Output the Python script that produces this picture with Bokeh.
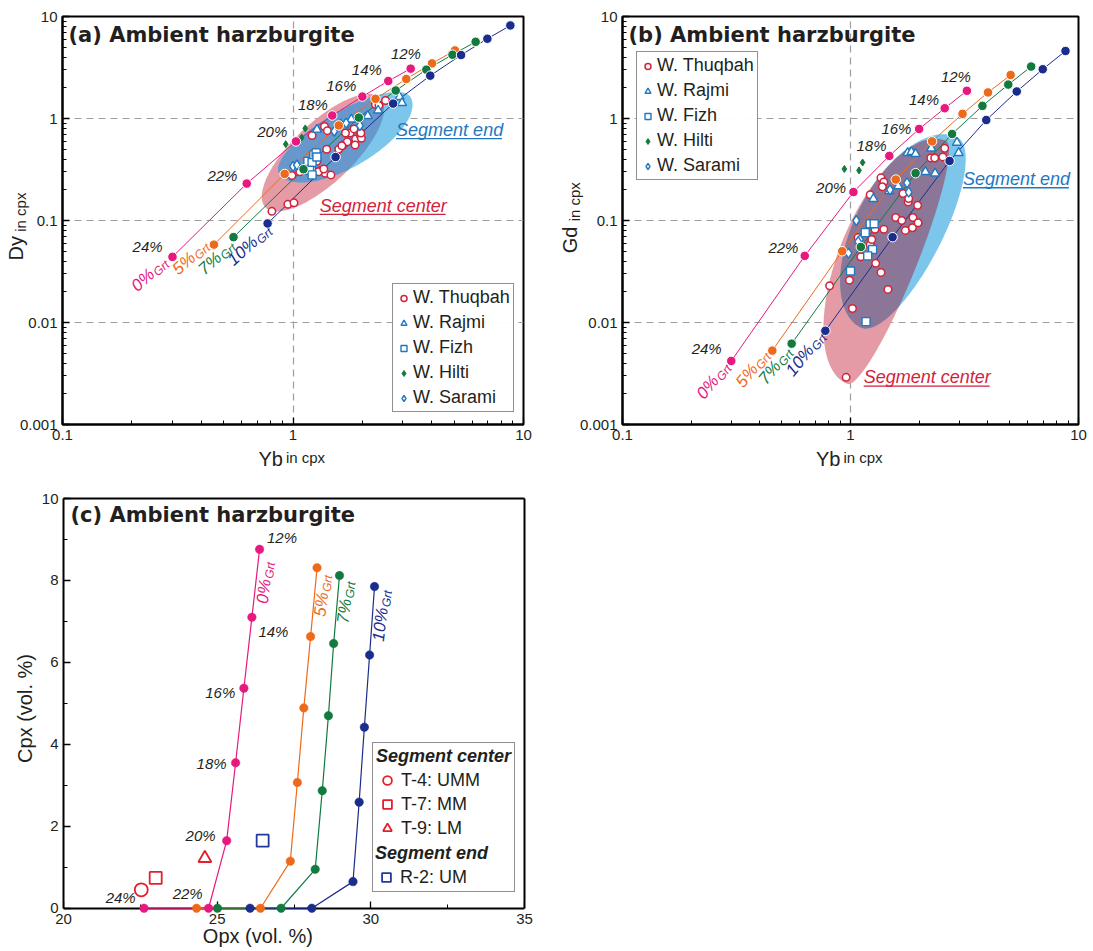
import numpy as np
from bokeh.plotting import figure
from bokeh.models import (Label, Legend, LegendItem, FixedTicker, Range1d, CustomJSTickFormatter,
                          LinearAxis, LogAxis)
from bokeh.layouts import column, row
from bokeh.embed import file_html
from bokeh.resources import INLINE

# ---------------- data ----------------
MELT_PCT = [24, 22, 20, 18, 16, 14, 12]
GRT_PCT = [0, 5, 7, 10]

YB_G0 = [0.30, 0.63, 1.03, 1.48, 2.00, 2.59, 3.24]
DY_G0 = [0.044, 0.23, 0.596, 1.07, 1.64, 2.33, 3.08]
GD_G0 = [0.0042, 0.045, 0.19, 0.43, 0.79, 1.26, 1.87]
OPX_G0 = [22.62, 24.72, 25.31, 25.60, 25.87, 26.13, 26.38]
CPX_G0 = [0.0, 0.0, 1.65, 3.55, 5.37, 7.10, 8.76]

YB_G5 = [0.454, 0.92, 1.58, 2.28, 3.10, 4.01, 5.04]
DY_G5 = [0.058, 0.286, 0.855, 1.56, 2.44, 3.47, 4.65]
GD_G5 = [0.0053, 0.050, 0.252, 0.597, 1.11, 1.80, 2.67]
OPX_G5 = [24.33, 26.41, 27.38, 27.61, 27.82, 28.04, 28.25]
CPX_G5 = [0.0, 0.0, 1.15, 3.07, 4.89, 6.63, 8.31]

YB_G7 = [0.552, 1.11, 1.93, 2.79, 3.79, 4.92, 6.20]
DY_G7 = [0.0687, 0.318, 1.02, 1.88, 3.01, 4.22, 5.65]
GD_G7 = [0.0062, 0.055, 0.291, 0.705, 1.33, 2.15, 3.23]
OPX_G7 = [25.01, 27.08, 28.19, 28.42, 28.62, 28.79, 28.98]
CPX_G7 = [0.0, 0.0, 0.95, 2.87, 4.70, 6.46, 8.12]

YB_G10 = [0.776, 1.53, 2.72, 3.94, 5.36, 6.97, 8.77]
DY_G10 = [0.0935, 0.419, 1.40, 2.63, 4.19, 6.05, 8.17]
GD_G10 = [0.0083, 0.0686, 0.384, 0.966, 1.84, 3.04, 4.59]
OPX_G10 = [26.07, 28.08, 29.42, 29.62, 29.79, 29.96, 30.12]
CPX_G10 = [0.0, 0.0, 0.65, 2.59, 4.42, 6.18, 7.85]

# samples, panel (a): Yb vs Dy
THUQ_A_YB = [0.81, 0.95, 1.01, 0.99, 1.07, 1.21, 1.37, 1.41, 1.40, 1.27, 1.32, 1.38, 1.46, 1.21, 1.29,
             1.36, 1.58, 1.65, 1.72, 1.77, 1.84, 1.87, 1.96, 1.98, 1.86, 1.63, 1.97, 2.28, 2.36, 2.52, 1.69]
THUQ_A_DY = [0.123, 0.144, 0.149, 0.276, 0.30, 0.68, 0.835, 0.76, 0.50, 0.38, 0.31, 0.29, 0.28, 0.32, 0.30,
             0.32, 0.50, 0.55, 0.59, 0.72, 0.79, 0.63, 0.68, 0.64, 0.55, 0.54, 0.72, 1.37, 1.34, 1.50, 0.72]
RAJMI_A_YB = [1.27, 1.79, 2.11, 2.34, 2.90, 2.97]
RAJMI_A_DY = [0.78, 0.98, 1.06, 1.20, 1.63, 1.42]
FIZH_A_YB = [1.16, 1.23, 1.26, 1.21, 1.18, 1.21, 1.27]
FIZH_A_DY = [0.38, 0.44, 0.46, 0.37, 0.31, 0.28, 0.42]
HILTI_A_YB = [0.93, 1.09, 1.13]
HILTI_A_DY = [0.56, 0.65, 0.80]
SARAMI_A_YB = [1.00, 1.04, 1.51, 1.61, 1.95, 1.70]
SARAMI_A_DY = [0.34, 0.35, 0.75, 0.88, 0.85, 0.90]

# samples, panel (b): Yb vs Gd
THUQ_B_YB = [0.957, 1.02, 0.81, 0.99, 1.46, 1.36, 1.29, 1.11, 1.22, 1.24, 1.28, 1.40, 1.08, 1.58, 1.68,
             1.74, 1.87, 1.88, 1.98, 1.97, 1.79, 1.80, 1.70, 1.22, 1.36, 1.40, 1.38, 2.25, 2.34, 2.54, 2.59]
THUQ_B_GD = [0.0029, 0.0137, 0.0229, 0.026, 0.0211, 0.031, 0.038, 0.044, 0.058, 0.065, 0.082, 0.082, 0.068,
             0.107, 0.100, 0.080, 0.085, 0.107, 0.095, 0.141, 0.152, 0.164, 0.184, 0.179, 0.262, 0.239, 0.214,
             0.41, 0.41, 0.42, 0.51]
RAJMI_B_YB = [1.26, 1.48, 1.62, 1.78, 1.85, 1.93, 2.13, 2.35, 2.26, 2.93, 2.98]
RAJMI_B_GD = [0.163, 0.194, 0.217, 0.46, 0.47, 0.45, 0.30, 0.29, 0.51, 0.58, 0.46]
FIZH_B_YB = [1.16, 1.22, 1.27, 1.25, 1.19, 1.00, 1.17]
FIZH_B_GD = [0.076, 0.093, 0.093, 0.052, 0.045, 0.032, 0.0102]
HILTI_B_YB = [0.94, 1.09, 1.13]
HILTI_B_GD = [0.32, 0.31, 0.37]
SARAMI_B_YB = [1.06, 0.98, 1.10, 1.08, 1.49, 1.77, 1.80]
SARAMI_B_GD = [0.100, 0.048, 0.065, 0.062, 0.20, 0.234, 0.19]

# samples, panel (c): Opx vs Cpx (vol. %)
T4_OPX, T4_CPX = [22.53], [0.45]
T7_OPX, T7_CPX = [23.00], [0.74]
T9_OPX, T9_CPX = [24.60], [1.22]
R2_OPX, R2_CPX = [26.48], [1.65]

# fields (egg shapes in log10 space: centre, half-axis u, half-widths v1 / v2 on the two sides)
CENTER_FIELD_A = dict(c=(0.130, -0.335), u=(0.250, 0.535), v1=(0.0895, -0.214), v2=(0.0895, -0.214))
END_FIELD_A = dict(c=(0.2252, -0.1657), u=(0.285, 0.3745), v1=(0.0698, -0.2713), v2=(0.0524, -0.203))
CENTER_FIELD_B = dict(c=(0.2013, -1.409), u=(0.2158, 1.192), v1=(0.0811, -0.0735), v2=(0.236, -0.2127))
END_FIELD_B = dict(c=(0.2566, -1.1176), u=(0.2127, 0.932), v1=(0.129, -0.147), v2=(0.215, -0.245))

# ---------------- styles ----------------
FONT = "Liberation Sans"
TITLE_FONT = "DejaVu Sans"
INK = "#231f20"
C_G = {0: "#e6197e", 5: "#ee6a1b", 7: "#127a3e", 10: "#1b2d8c"}
RED = "#d2233c"
BLUE = "#1e78c2"
GREEN = "#127a3e"
PINK_FIELD = "#e59ba6"
BLUE_FIELD = "#7cc6ec"
OVER_A = "#6898cb"
OVER_B = "#8c7698"
NBSP = "\u00a0"

SERIES = {
    0: (YB_G0, DY_G0, GD_G0, OPX_G0, CPX_G0),
    5: (YB_G5, DY_G5, GD_G5, OPX_G5, CPX_G5),
    7: (YB_G7, DY_G7, GD_G7, OPX_G7, CPX_G7),
    10: (YB_G10, DY_G10, GD_G10, OPX_G10, CPX_G10),
}


def egg(c, u, v1, v2, n=180):
    t = np.linspace(0, 2 * np.pi, n, endpoint=False)
    c, u, v1, v2 = (np.array(a, dtype=float) for a in (c, u, v1, v2))
    s = np.sin(t)[:, None]
    v = np.where(s >= 0, v1[None, :], v2[None, :])
    pts = c[None, :] + np.cos(t)[:, None] * u[None, :] + s * v
    if u[0] * v1[1] - u[1] * v1[0] < 0:
        pts = pts[::-1]
    return pts


def clip_convex(subject, clipper):
    def inside(p, a, b):
        return (b[0] - a[0]) * (p[1] - a[1]) - (b[1] - a[1]) * (p[0] - a[0]) >= 0

    def inter(p1, p2, a, b):
        d1 = p2 - p1
        d2 = b - a
        den = d1[0] * d2[1] - d1[1] * d2[0]
        t = ((a[0] - p1[0]) * d2[1] - (a[1] - p1[1]) * d2[0]) / den
        return p1 + t * d1

    out = [np.array(p) for p in subject]
    for i in range(len(clipper)):
        a, b = clipper[i], clipper[(i + 1) % len(clipper)]
        inp, out = out, []
        if not inp:
            break
        s = inp[-1]
        for e in inp:
            if inside(e, a, b):
                if not inside(s, a, b):
                    out.append(inter(s, e, a, b))
                out.append(e)
            elif inside(s, a, b):
                out.append(inter(s, e, a, b))
            s = e
    return np.array(out)


def add_label(p, x, y, text, size, color=INK, style="normal", align="left",
              baseline="alphabetic", angle=0.0, xo=0, yo=0, font=FONT):
    if baseline == "alphabetic":
        k = 0.31 * size   # lift so that the baseline sits on the anchor
        xo = xo - k * np.sin(angle)
        yo = yo + k * np.cos(angle)
    p.add_layout(Label(x=x, y=y, text=text, text_font=font, text_font_size=f"{size}px",
                       text_font_style=style, text_color=color, text_align=align,
                       text_baseline=baseline, angle=angle, x_offset=xo, y_offset=yo))


def style_axis(ax, t, m, lab, sz, st, log):
    ax.ticker = FixedTicker(ticks=t, minor_ticks=m)
    if log:
        ax.formatter = CustomJSTickFormatter(code="return String(tick);")
    ax.axis_line_width = 2
    ax.axis_line_color = "black"
    ax.major_tick_in = 7
    ax.major_tick_out = 0
    ax.minor_tick_in = 4
    ax.minor_tick_out = 0
    ax.major_tick_line_color = "black"
    ax.minor_tick_line_color = "black"
    ax.major_tick_line_width = 1.3
    ax.minor_tick_line_width = 1
    ax.major_label_text_font = FONT
    ax.major_label_text_font_size = "15px"
    ax.major_label_text_color = INK
    ax.major_label_standoff = 5
    ax.axis_label = lab
    ax.axis_label_text_font = FONT
    ax.axis_label_text_font_size = f"{sz}px"
    ax.axis_label_text_font_style = "normal"
    ax.axis_label_text_color = INK
    ax.axis_label_standoff = st


def label_axis(p, side, text, size, standoff, cls):
    """An axis with no line and no ticks that only carries a (part of an) axis title."""
    ax = cls(ticker=FixedTicker(ticks=[]), axis_line_color=None, major_tick_in=0, major_tick_out=0,
             minor_tick_in=0, minor_tick_out=0, major_label_standoff=0,
             axis_label=text, axis_label_text_font=FONT, axis_label_text_font_size=f"{size}px",
             axis_label_text_font_style="normal", axis_label_text_color=INK,
             axis_label_standoff=standoff)
    p.add_layout(ax, side)
    return ax


def grt_label(p, x, y, pct, color, angle_deg, big=17, small=12):
    a = np.radians(angle_deg)
    add_label(p, x, y, f"{pct}%", big, color=color, style="italic", angle=a)
    w = (0.556 * len(str(pct)) + 0.889) * big + 1
    d = 2.0
    add_label(p, x, y, "Grt", small, color=color, style="italic", angle=a,
              xo=w * np.cos(a) + d * np.sin(a), yo=w * np.sin(a) - d * np.cos(a))


LOG_MAJ = [0.1, 1, 10]
LOG_MIN = [0.2, 0.3, 0.4, 0.5, 0.6, 0.7, 0.8, 0.9, 2, 3, 4, 5, 6, 7, 8, 9]
LOGY_MAJ = [0.001, 0.01, 0.1, 1, 10]
LOGY_MIN = [k * 10.0 ** e for e in (-3, -2, -1, 0) for k in range(2, 10)]


def log_panel(tag, ylab, yidx, fields, over_col, samples, pct_pos, grt_pos, grt_angle,
              seg_end, seg_center, legend_loc, bl, fw, br, decade_x, ylab_pads, ylab_stand):
    p = figure(width=bl + fw + br, height=16 + 408 + 50,
               x_axis_type="log", y_axis_type="log",
               x_range=Range1d(0.1, 10), y_range=Range1d(0.001, 10),
               output_backend="svg", toolbar_location=None,
               min_border_left=bl, min_border_right=br, min_border_top=16, min_border_bottom=50)
    # axis titles: small "in cpx" on the inner axis, big element name on an outer label-only axis
    style_axis(p.xaxis[0], LOG_MAJ, LOG_MIN, NBSP * 6 + "in cpx", 15, 6, True)
    label_axis(p, "below", "Yb" + NBSP * 8, 20, -21, LogAxis)
    k_big, m_small = ylab_pads
    style_axis(p.yaxis[0], LOGY_MAJ, LOGY_MIN, NBSP * m_small + "in cpx", 15, ylab_stand, True)
    label_axis(p, "left", ylab + NBSP * k_big, 20, -18, LogAxis)
    p.outline_line_color = "black"
    p.outline_line_width = 2
    p.outline_line_alpha = 1
    p.xgrid.ticker = FixedTicker(ticks=[1])
    p.ygrid.ticker = FixedTicker(ticks=[0.01, 0.1, 1])
    p.grid.grid_line_color = "#9d9d9d"
    p.grid.grid_line_dash = "7 5"
    p.grid.grid_line_width = 1.2

    # fields
    pink = egg(**fields[0])
    blue = egg(**fields[1])
    over = clip_convex(pink, blue)
    p.patch(10 ** pink[:, 0], 10 ** pink[:, 1], fill_color=PINK_FIELD, line_color=None)
    p.patch(10 ** blue[:, 0], 10 ** blue[:, 1], fill_color=BLUE_FIELD, line_color=None)
    if len(over):
        p.patch(10 ** over[:, 0], 10 ** over[:, 1], fill_color=over_col, line_color=None)

    # model lines
    for g in GRT_PCT:
        s = SERIES[g]
        p.line(s[0], s[yidx], line_color=C_G[g], line_width=1)

    # samples
    (thx, thy), (rax, ray), (fzx, fzy), (hix, hiy), (sax, say) = samples
    r_th = p.scatter(thx, thy, marker="circle", size=7.5, line_color=RED, fill_color="white", line_width=1.5)
    r_ra = p.scatter(rax, ray, marker="triangle", size=9, line_color=BLUE, fill_color="white", line_width=1.4)
    r_fz = p.scatter(fzx, fzy, marker="square", size=8, line_color=BLUE, fill_color="white", line_width=1.4)
    r_hi = p.scatter(hix, hiy, marker="diamond", size=7, line_color=GREEN, fill_color=GREEN, line_width=1)
    r_sa = p.scatter(sax, say, marker="diamond", size=10, line_color=BLUE, fill_color="white", line_width=1.4)

    # model points
    for g in GRT_PCT:
        s = SERIES[g]
        p.scatter(s[0], s[yidx], marker="circle", size=9.5, fill_color=C_G[g], line_color="white", line_width=1)

    # texts
    add_label(p, 0.1, 10, f"({tag}) Ambient harzburgite", 21, style="bold", xo=6, yo=-25, font=TITLE_FONT)
    for (px_, py_), m in zip(pct_pos, MELT_PCT):
        add_label(p, px_, py_, f"{m}%", 15, style="italic", align="center", baseline="middle")
    for (gx, gy), g in zip(grt_pos, GRT_PCT):
        grt_label(p, gx, gy, g, C_G[g], grt_angle)
    for (sx, sy, txt, col, w) in (seg_end + (BLUE, 106), seg_center + (RED, 126)):
        add_label(p, sx, sy, txt, 18, color=col, style="italic")
        yl = sy * 10 ** (-3.0 / 102)
        p.segment(x0=[sx], y0=[yl], x1=[sx * 10 ** (w / decade_x)], y1=[yl], line_color=col, line_width=1.3)

    leg = Legend(items=[LegendItem(label="W. Thuqbah", renderers=[r_th]),
                        LegendItem(label="W. Rajmi", renderers=[r_ra]),
                        LegendItem(label="W. Fizh", renderers=[r_fz]),
                        LegendItem(label="W. Hilti", renderers=[r_hi]),
                        LegendItem(label="W. Sarami", renderers=[r_sa])],
                 location=legend_loc)
    leg.label_text_font = FONT
    leg.label_text_font_size = "18px"
    leg.label_text_color = INK
    leg.border_line_color = INK
    leg.border_line_width = 1.5
    leg.padding = 3
    leg.spacing = 4
    leg.margin = 0
    leg.glyph_width = 15
    leg.glyph_height = 20
    leg.label_height = 20
    leg.label_standoff = 2
    p.add_layout(leg)
    return p


pa = log_panel(
    "a", "Dy", 1, (CENTER_FIELD_A, END_FIELD_A), OVER_A,
    ((THUQ_A_YB, THUQ_A_DY), (RAJMI_A_YB, RAJMI_A_DY), (FIZH_A_YB, FIZH_A_DY),
     (HILTI_A_YB, HILTI_A_DY), (SARAMI_A_YB, SARAMI_A_DY)),
    [(0.234, 0.0557), (0.494, 0.279), (0.813, 0.741), (1.22, 1.38), (1.62, 2.12), (2.09, 3.01), (3.09, 4.32)],
    [(0.211, 0.0198), (0.318, 0.0288), (0.412, 0.0288), (0.552, 0.0356)], 42,
    (2.80, 0.68, "Segment end"), (1.306, 0.123, "Segment center"),
    (330, 12), 62, 461, 10, 230.5, (10, 4), -12)

pb = log_panel(
    "b", "Gd", 2, (CENTER_FIELD_B, END_FIELD_B), OVER_B,
    ((THUQ_B_YB, THUQ_B_GD), (RAJMI_B_YB, RAJMI_B_GD), (FIZH_B_YB, FIZH_B_GD),
     (HILTI_B_YB, HILTI_B_GD), (SARAMI_B_YB, SARAMI_B_GD)),
    [(0.234, 0.0056), (0.508, 0.0543), (0.822, 0.212), (1.236, 0.546), (1.59, 0.805), (2.10, 1.52), (2.90, 2.58)],
    [(0.228, 0.00173), (0.339, 0.00225), (0.426, 0.00242), (0.561, 0.00292)], 51,
    (3.114, 0.224, "Segment end"), (1.143, 0.00255, "Segment center"),
    (14, 244), 89, 456, 10, 228, (7, 9), -6)

# ---------------- panel (c) ----------------
# the y range reaches a little below 0 so that the dots on Cpx = 0 are drawn whole;
# the x axis line is pinned at Cpx = 0 and the box is drawn by bounded axes.
pc = figure(width=63 + 461 + 10, height=24 + 420 + 33,
            x_range=Range1d(20, 35), y_range=Range1d(-0.25, 10),
            output_backend="svg", toolbar_location=None,
            min_border_left=63, min_border_right=10, min_border_top=24, min_border_bottom=33)
style_axis(pc.xaxis[0], [20, 25, 30, 35], [22.5, 27.5, 32.5], None, 20, 0, False)
pc.xaxis[0].fixed_location = 0
pc.xaxis[0].major_label_text_color = None
pc.xaxis[0].major_label_text_font_size = "0px"
style_axis(pc.yaxis[0], [0, 2, 4, 6, 8, 10], [1, 3, 5, 7, 9], "Cpx (vol. %)", 20, 3, False)
pc.yaxis[0].bounds = (0, 10)
pc.outline_line_color = None
pc.grid.visible = False
# tick labels and title of the Opx axis
opx_ax = LinearAxis(ticker=FixedTicker(ticks=[20, 25, 30, 35]), axis_line_color=None,
                    major_tick_in=0, major_tick_out=0, minor_tick_in=0, minor_tick_out=0,
                    major_label_standoff=-5, major_label_text_font=FONT, major_label_text_font_size="15px",
                    major_label_text_color=INK,
                    axis_label="Opx (vol. %)" + NBSP * 13, axis_label_text_font=FONT,
                    axis_label_text_font_size="20px", axis_label_text_font_style="normal",
                    axis_label_text_color=INK, axis_label_standoff=-2)
pc.add_layout(opx_ax, "below")
for side, bounds in (("right", (0, 10)), ("above", (20, 35))):
    frame_ax = LinearAxis(ticker=FixedTicker(ticks=[]), bounds=bounds, axis_line_width=2,
                          axis_line_color="black", major_tick_in=0, major_tick_out=0,
                          minor_tick_in=0, minor_tick_out=0, major_label_standoff=0)
    pc.add_layout(frame_ax, side)

for g in GRT_PCT:
    s = SERIES[g]
    pc.line(s[3], s[4], line_color=C_G[g], line_width=1.2, level="overlay")
for g in GRT_PCT:
    s = SERIES[g]
    pc.scatter(s[3], s[4], marker="circle", size=8.5, fill_color=C_G[g], line_color=C_G[g], line_width=0.5,
               level="overlay")

RED_C = "#e3202c"
NAVY_C = "#24399a"
r_t4 = pc.scatter(T4_OPX, T4_CPX, marker="circle", size=13, line_color=RED_C, fill_color=None, line_width=1.8)
r_t7 = pc.scatter(T7_OPX, T7_CPX, marker="square", size=12, line_color=RED_C, fill_color=None, line_width=1.8)
r_t9 = pc.scatter(T9_OPX, T9_CPX, marker="triangle", size=13, line_color=RED_C, fill_color=None, line_width=1.8)
r_r2 = pc.scatter(R2_OPX, R2_CPX, marker="square", size=12, line_color=NAVY_C, fill_color=None, line_width=1.8)

add_label(pc, 20, 10, "(c) Ambient harzburgite", 21, style="bold", xo=7, yo=-23, font=TITLE_FONT)
for (px_, py_), m in zip([(21.86, 0.27), (24.04, 0.37), (24.46, 1.77), (24.82, 3.54), (25.10, 5.27),
                          (26.83, 6.76), (27.11, 9.05)], MELT_PCT):
    add_label(pc, px_, py_, f"{m}%", 15, style="italic", align="center", baseline="middle")
for (gx, gy), g in zip([(26.64, 7.42), (28.51, 7.10), (29.26, 6.94), (30.41, 6.50)], GRT_PCT):
    grt_label(pc, gx, gy, g, C_G[g], 83)

leg1 = Legend(items=[LegendItem(label="T-4: UMM", renderers=[r_t4]),
                     LegendItem(label="T-7: MM", renderers=[r_t7]),
                     LegendItem(label="T-9: LM", renderers=[r_t9]),
                     LegendItem(label=" ", renderers=[]),
                     LegendItem(label=" ", renderers=[])],
              title="Segment center", location=(309, 26))
leg2 = Legend(items=[LegendItem(label="R-2: UM", renderers=[r_r2])],
              title="Segment end", location=(309, 26))
for lg in (leg1, leg2):
    lg.label_text_font = FONT
    lg.label_text_font_size = "18px"
    lg.label_text_color = INK
    lg.title_text_font = FONT
    lg.title_text_font_size = "18px"
    lg.title_text_font_style = "bold italic"
    lg.title_text_color = INK
    lg.title_standoff = 1
    lg.padding = 3
    lg.spacing = 0
    lg.margin = 0
    lg.glyph_width = 22
    lg.glyph_height = 24
    lg.label_height = 20
    lg.label_standoff = 3
leg1.border_line_color = INK
leg1.border_line_width = 1.5
leg2.border_line_alpha = 0
leg2.background_fill_alpha = 0
pc.add_layout(leg1)
pc.add_layout(leg2)

layout = column(row(pa, pb), pc)
open("out.html", "w").write(file_html(layout, INLINE))
